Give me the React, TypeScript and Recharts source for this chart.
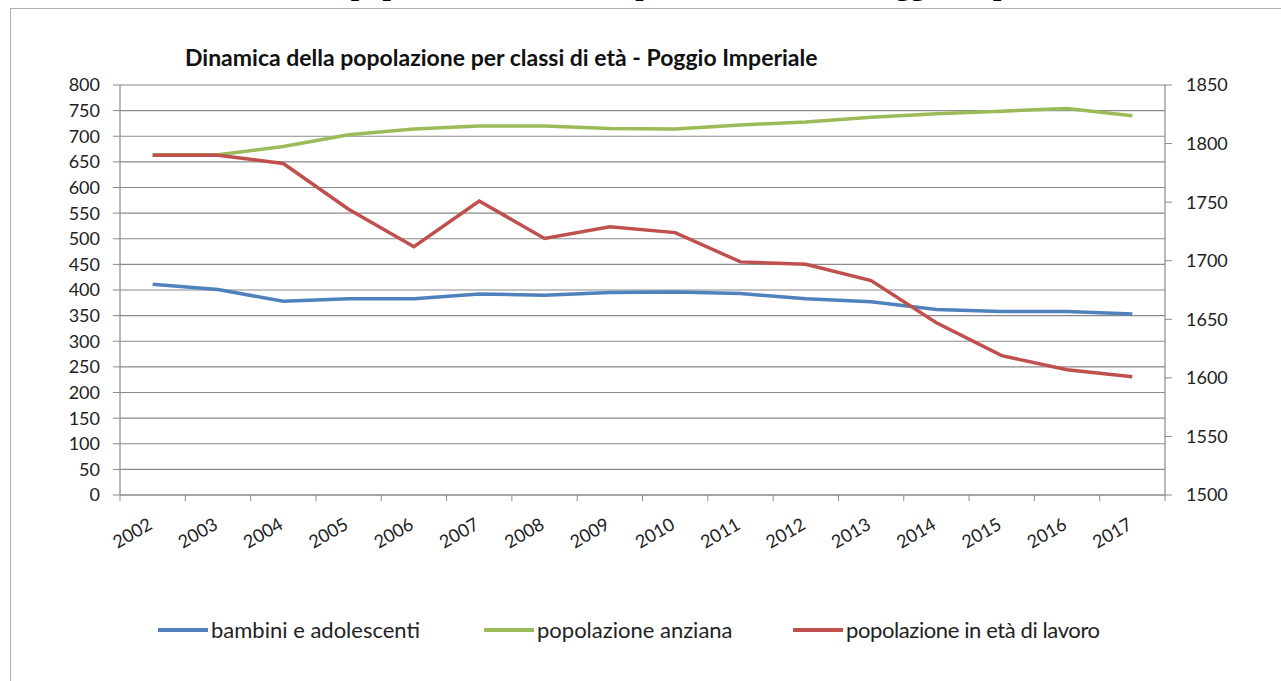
import React from "react";
import { LineChart, Line, XAxis, YAxis, CartesianGrid } from "recharts";

// anni e valori
const years = ["2002", "2003", "2004", "2005", "2006", "2007", "2008", "2009", "2010", "2011", "2012", "2013", "2014", "2015", "2016", "2017"];
const bambini = [411, 401, 378, 383, 383, 392, 390, 395, 396, 393, 383, 377, 362, 358, 358, 353];
const anziani = [664, 664, 680, 703, 714, 720, 720, 715, 714, 722, 728, 737, 744, 749, 754, 740];
const lavoro = [1790, 1790, 1783, 1744, 1712, 1751, 1719, 1729, 1724, 1699, 1697, 1683, 1647, 1619, 1607, 1601];

const leftTicks = [0, 50, 100, 150, 200, 250, 300, 350, 400, 450, 500, 550, 600, 650, 700, 750, 800];
const rightTicks = [1500, 1550, 1600, 1650, 1700, 1750, 1800, 1850];

const series = [
	{ key: "bambini", name: "bambini e adolescenti", color: "#4F81BD", axis: "left" },
	{ key: "anziani", name: "popolazione anziana", color: "#9BBB59", axis: "left" },
	{ key: "lavoro", name: "popolazione in età di lavoro", color: "#C0504D", axis: "right" },
];

const data = years.map((y, i) => ({
	anno: y,
	bambini: bambini[i],
	anziani: anziani[i],
	lavoro: lavoro[i],
}));

const FONT = "Lato, 'Open Sans', sans-serif";
const GRID = "#8a8a8a";
const BAND = (1165 - 120) / years.length;
const legendX = [158, 484, 793];

const YearTick = (props: any) => {
	const { x, y, payload, index } = props;
	const ax = x + 1;
	const ay = y + 33;
	return (
		<g>
			<line x1={x - BAND / 2} y1={y} x2={x - BAND / 2} y2={y + 6} stroke={GRID} />
			{index === years.length - 1 && <line x1={x + BAND / 2} y1={y} x2={x + BAND / 2} y2={y + 6} stroke={GRID} />}
			<text x={ax} y={ay} textAnchor="end" transform={`rotate(-30 ${ax} ${ay})`} fill="#222" fontSize={18} fontFamily={FONT}>
				{payload.value}
			</text>
		</g>
	);
};

export default function App() {
	return (
		<div style={{ position: "absolute", left: 0, top: 0, width: 1281, height: 681, overflow: "hidden", background: "#fff" }}>
			<div
				style={{
					position: "absolute",
					left: 0,
					top: -30,
					whiteSpace: "nowrap",
					fontFamily: "'Liberation Serif', 'Times New Roman', serif",
					fontWeight: "bold",
					fontSize: 30,
					lineHeight: "30px",
				}}
			>
				Grafico 6 – Dinamica della popolazione residente per classi di età – Poggio Imperiale
			</div>
			<div style={{ position: "absolute", left: 10, top: 8, width: 1300, height: 700, border: "1px solid #b0b0b0" }} />
			<div
				style={{
					position: "absolute",
					left: 185,
					top: 43,
					fontFamily: FONT,
					fontWeight: "bold",
					fontSize: 23,
					color: "#111",
					whiteSpace: "nowrap",
				}}
			>
				Dinamica della popolazione per classi di età - Poggio Imperiale
			</div>
			<div style={{ position: "absolute", left: 0, top: 0 }}>
				<LineChart width={1281} height={681} data={data} margin={{ top: 85, right: 56, bottom: 126, left: 60 }}>
					<CartesianGrid yAxisId="left" vertical={false} stroke={GRID} strokeWidth={1.2} />
					<XAxis
						dataKey="anno"
						interval={0}
						height={60}
						padding={{ left: BAND / 2, right: BAND / 2 }}
						axisLine={{ stroke: GRID, strokeWidth: 1.2 }}
						tickLine={false}
						tickSize={0}
						tickMargin={0}
						tick={<YearTick />}
					/>
					<YAxis
						yAxisId="left"
						orientation="left"
						width={60}
						domain={[0, 800]}
						ticks={leftTicks}
						interval={0}
						axisLine={{ stroke: GRID, strokeWidth: 1.2 }}
						tickLine={{ stroke: GRID }}
						tickSize={7}
						tickMargin={13}
						tick={{ fill: "#222", fontSize: 18, fontFamily: FONT }}
					/>
					<YAxis
						yAxisId="right"
						orientation="right"
						width={60}
						domain={[1500, 1850]}
						ticks={rightTicks}
						interval={0}
						axisLine={{ stroke: GRID, strokeWidth: 1.2 }}
						tickLine={{ stroke: GRID }}
						tickSize={7}
						tickMargin={14}
						tick={{ fill: "#222", fontSize: 18, fontFamily: FONT }}
					/>
					{series.map((s) => (
						<Line
							key={s.key}
							yAxisId={s.axis}
							type="linear"
							dataKey={s.key}
							name={s.name}
							stroke={s.color}
							strokeWidth={3.5}
							dot={false}
							isAnimationActive={false}
						/>
					))}
				</LineChart>
			</div>
			{series.map((s, i) => (
				<div
					key={`leg-${s.key}`}
					style={{
						position: "absolute",
						left: legendX[i],
						top: 616,
						display: "flex",
						alignItems: "center",
						fontFamily: FONT,
						fontSize: 22,
						color: "#222",
						whiteSpace: "nowrap",
						letterSpacing: i === 2 ? -0.4 : 0,
					}}
				>
					<svg width={50} height={10} style={{ marginRight: 3 }}>
						<line x1={0} y1={5} x2={50} y2={5} stroke={s.color} strokeWidth={4} />
					</svg>
					<span>{s.name}</span>
				</div>
			))}
		</div>
	);
}
